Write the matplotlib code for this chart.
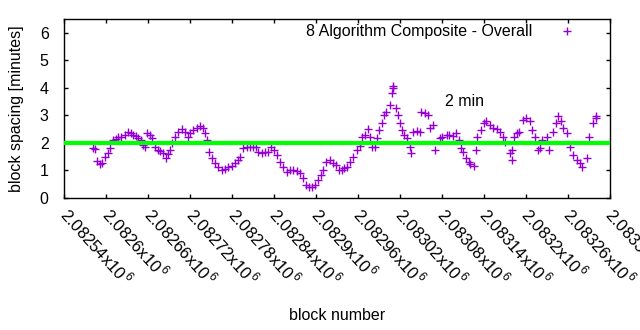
"""Block spacing chart: 8 algorithm composite, with the 2 minute target line."""
import numpy as np
from matplotlib import pyplot as plt

plt.rcParams['font.family'] = ['Liberation Sans', 'DejaVu Sans']
plt.rcParams['mathtext.fontset'] = 'custom'
plt.rcParams['mathtext.rm'] = 'Liberation Sans'

SERIES_NAME = '8 Algorithm Composite - Overall'
TARGET_LABEL = '2 min'
TARGET_MINUTES = 2.0

BLOCK_BASE = 2082500
block_offsets = [
    81, 84, 87, 91, 94, 99, 103, 106, 110, 114,
    117, 121, 127, 131, 136, 139, 143, 146, 150, 153,
    156, 159, 163, 166, 170, 174, 177, 181, 186, 189,
    191, 194, 199, 203, 209, 213, 217, 220, 224, 230,
    234, 239, 241, 244, 247, 251, 256, 260, 266, 270,
    274, 280, 284, 289, 291, 296, 301, 306, 310, 314,
    317, 323, 327, 331, 336, 340, 344, 349, 353, 359,
    363, 367, 373, 377, 381, 386, 390, 394, 399, 403,
    407, 410, 414, 420, 424, 429, 433, 437, 440, 444,
    449, 453, 459, 463, 466, 470, 474, 477, 481, 484,
    487, 491, 494, 497, 501, 506, 509, 510, 511, 514,
    517, 520, 523, 526, 530, 534, 536, 539, 544, 549,
    551, 556, 560, 563, 567, 571, 577, 581, 587, 591,
    596, 600, 604, 607, 610, 614, 619, 621, 626, 629,
    631, 636, 640, 644, 649, 653, 659, 663, 667, 671,
    677, 680, 681, 684, 687, 691, 696, 701, 706, 709,
    713, 717, 720, 724, 730, 734, 739, 743, 746, 750,
    753, 759, 763, 767, 773, 777, 781, 787, 791, 796,
    800, 801,
]
spacing_minutes = [
    1.80, 1.77, 1.35, 1.25, 1.28, 1.50, 1.65, 1.82, 2.10, 2.15,
    2.20, 2.20, 2.30, 2.40, 2.35, 2.30, 2.25, 2.17, 2.10, 1.93,
    1.86, 2.36, 2.30, 2.18, 1.87, 1.75, 1.70, 1.63, 1.45, 1.60,
    1.75, 2.00, 2.23, 2.41, 2.50, 2.41, 2.23, 2.37, 2.47, 2.53,
    2.62, 2.53, 2.35, 2.10, 1.68, 1.44, 1.26, 1.12, 1.02, 1.05,
    1.12, 1.16, 1.26, 1.38, 1.50, 1.80, 1.84, 1.87, 1.84, 1.87,
    1.68, 1.62, 1.68, 1.68, 1.87, 1.75, 1.56, 1.32, 1.14, 0.96,
    1.02, 1.02, 0.98, 0.92, 0.72, 0.47, 0.41, 0.41, 0.47, 0.65,
    0.84, 1.02, 1.32, 1.38, 1.28, 1.20, 1.02, 1.02, 1.10, 1.14,
    1.32, 1.48, 1.75, 1.89, 2.23, 2.29, 2.50, 2.23, 1.84, 1.87,
    2.17, 2.47, 2.72, 3.02, 3.14, 3.38, 3.81, 3.99, 4.07, 3.26,
    3.02, 2.72, 2.47, 2.29, 2.17, 1.87, 1.65, 2.41, 2.44, 2.41,
    3.14, 3.08, 3.02, 2.53, 2.65, 1.75, 2.17, 2.23, 2.29, 2.29,
    2.25, 2.35, 2.11, 1.81, 1.68, 1.44, 1.32, 1.24, 1.16, 1.75,
    2.23, 2.47, 2.72, 2.78, 2.65, 2.53, 2.50, 2.41, 2.23, 2.05,
    1.62, 1.38, 1.75, 2.23, 2.35, 2.41, 2.84, 2.90, 2.78, 2.47,
    2.23, 1.75, 1.81, 2.11, 2.23, 1.75, 2.41, 2.72, 2.96, 2.78,
    2.53, 2.35, 1.87, 1.56, 1.38, 1.28, 1.14, 1.44, 2.23, 2.72,
    2.90, 2.98,
]

X_MIN, X_MAX, X_STEP = 2082540, 2083320, 60
Y_MIN, Y_MAX = 0, 6.5
LABEL_BLOCK, LABEL_Y = 2083113, 3.5

PURPLE = '#9400D3'
GREEN = '#00FF00'
FONTSIZE = 11.5
XTICK_FONTSIZE = 12


def sci_label(v):
    """Format tick like gnuplot: 2.08254x10^6."""
    return '{m:g}x10$^{{\\,6}}$'.format(m=v / 1e6)


def main():
    blocks = BLOCK_BASE + np.array(block_offsets)

    fig = plt.figure(figsize=(6.4, 3.3), dpi=100)
    ax = fig.add_axes([0.1, 0.4, 0.8525, 0.5424])

    ax.plot(blocks, spacing_minutes, linestyle='none', marker='+',
            markersize=6, markeredgewidth=1, color=PURPLE, label=SERIES_NAME)
    ax.axhline(TARGET_MINUTES, color=GREEN, linewidth=3, zorder=3)
    ax.text(LABEL_BLOCK, LABEL_Y, TARGET_LABEL, ha='center', va='center',
            fontsize=FONTSIZE)

    ax.set_xlim(X_MIN, X_MAX)
    ax.set_ylim(Y_MIN, Y_MAX)
    xt = np.arange(X_MIN, X_MAX + 1, X_STEP)
    ax.set_xticks(xt)
    ax.set_xticklabels([sci_label(v) for v in xt], rotation=-48, ha='left',
                       va='center', rotation_mode='anchor',
                       fontsize=XTICK_FONTSIZE)
    ax.set_yticks(np.arange(0, 7))
    ax.tick_params(direction='in', length=3, width=1, top=True, right=True,
                   labelsize=FONTSIZE)
    ax.tick_params(axis='x', pad=9, labelsize=XTICK_FONTSIZE)
    ax.tick_params(axis='y', pad=11)
    for s in ax.spines.values():
        s.set_linewidth(1)

    ax.set_xlabel('block number', fontsize=FONTSIZE, labelpad=13)
    ax.set_ylabel('block spacing [minutes]', fontsize=FONTSIZE, labelpad=11)

    ax.legend(loc='upper right', bbox_to_anchor=(0.9586, 0.97), frameon=False,
              markerfirst=False, borderpad=0, borderaxespad=0, handlelength=2.5,
              handletextpad=0.9, fontsize=FONTSIZE)

    fig.savefig('out.png', dpi=100)


if __name__ == '__main__':
    main()
